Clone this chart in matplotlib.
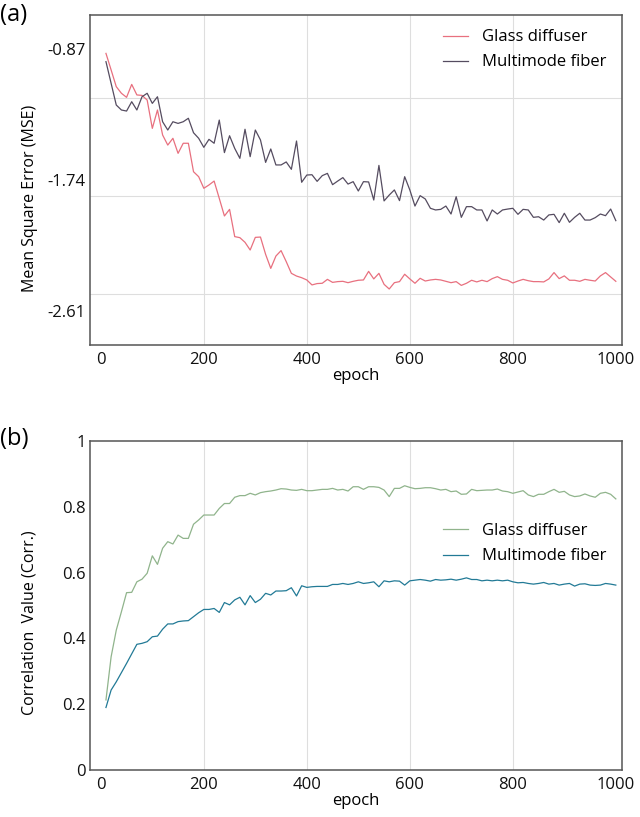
import numpy as np
import matplotlib
matplotlib.use("Agg")
import matplotlib.pyplot as plt

plt.rcParams['font.family'] = ['Open Sans', 'DejaVu Sans']

# epochs 10..1000
epochs = list(range(10, 1010, 10))

# (a) MSE curves
mse_glass = [
    -0.899, -1.009, -1.120, -1.164, -1.191, -1.105, -1.175, -1.178, -1.209, -1.397,
    -1.275, -1.441, -1.508, -1.463, -1.563, -1.496, -1.496, -1.685, -1.718, -1.795,
    -1.773, -1.747, -1.862, -1.979, -1.935, -2.116, -2.123, -2.154, -2.205, -2.121,
    -2.119, -2.234, -2.327, -2.245, -2.209, -2.282, -2.360, -2.378, -2.389, -2.404,
    -2.437, -2.428, -2.426, -2.400, -2.420, -2.415, -2.413, -2.422, -2.413, -2.406,
    -2.404, -2.347, -2.397, -2.360, -2.433,
    -2.464, -2.422, -2.415, -2.366, -2.397, -2.426, -2.393, -2.411, -2.404, -2.400,
    -2.404, -2.413, -2.422, -2.415, -2.440, -2.426, -2.406, -2.417, -2.406, -2.415,
    -2.395, -2.382, -2.400, -2.406, -2.424, -2.411, -2.400, -2.409, -2.415, -2.415,
    -2.417, -2.397, -2.355, -2.395, -2.377, -2.406, -2.406, -2.413, -2.400, -2.406,
    -2.411, -2.377, -2.355, -2.384, -2.413,
]
mse_fiber = [
    -0.954, -1.098, -1.242, -1.275, -1.282, -1.220, -1.275, -1.187, -1.164, -1.231,
    -1.187, -1.353, -1.408, -1.353, -1.364, -1.353, -1.330, -1.426, -1.463, -1.523,
    -1.470, -1.496, -1.342, -1.558, -1.446, -1.530, -1.596, -1.403, -1.585, -1.408,
    -1.474, -1.623, -1.534, -1.640, -1.640, -1.620, -1.669, -1.481, -1.755, -1.707,
    -1.705, -1.749, -1.711, -1.696, -1.771, -1.747, -1.724, -1.767, -1.751, -1.813,
    -1.751, -1.753, -1.873, -1.643, -1.879,
    -1.840, -1.806, -1.877, -1.718, -1.806, -1.913, -1.844, -1.866, -1.928, -1.939,
    -1.935, -1.913, -1.966, -1.851, -1.988, -1.917, -1.917, -1.939, -1.939, -2.012,
    -1.939, -1.966, -1.939, -1.933, -1.928, -1.968, -1.935, -1.939, -1.988, -1.984,
    -2.006, -1.972, -1.968, -2.023, -1.961, -2.021, -1.988, -1.961, -2.006, -2.006,
    -1.990, -1.966, -1.977, -1.933, -2.010,
]

# (b) correlation curves
corr_glass = [
    0.213, 0.344, 0.425, 0.481, 0.539, 0.540, 0.572, 0.580, 0.598, 0.651,
    0.625, 0.674, 0.694, 0.687, 0.714, 0.704, 0.704, 0.747, 0.760, 0.775,
    0.775, 0.775, 0.795, 0.810, 0.810, 0.829, 0.834, 0.834, 0.841, 0.836,
    0.843, 0.846, 0.848, 0.851, 0.855, 0.854, 0.851, 0.850, 0.853, 0.849,
    0.849, 0.851, 0.853, 0.853, 0.856, 0.851, 0.853, 0.848, 0.861, 0.861,
    0.853, 0.861, 0.861, 0.859, 0.851,
    0.831, 0.856, 0.856, 0.864, 0.859, 0.855, 0.856, 0.858, 0.858, 0.855,
    0.851, 0.853, 0.846, 0.848, 0.838, 0.839, 0.853, 0.849, 0.850, 0.851,
    0.851, 0.854, 0.848, 0.846, 0.841, 0.845, 0.849, 0.836, 0.831, 0.838,
    0.838, 0.846, 0.853, 0.844, 0.847, 0.836, 0.831, 0.833, 0.839, 0.833,
    0.829, 0.841, 0.844, 0.838, 0.824,
]
corr_fiber = [
    0.190, 0.243, 0.268, 0.296, 0.324, 0.353, 0.382, 0.385, 0.390, 0.405,
    0.407, 0.428, 0.444, 0.444, 0.451, 0.453, 0.454, 0.466, 0.478, 0.488,
    0.488, 0.491, 0.479, 0.509, 0.502, 0.517, 0.525, 0.502, 0.530, 0.509,
    0.519, 0.537, 0.532, 0.544, 0.544, 0.545, 0.554, 0.529, 0.560, 0.555,
    0.557, 0.558, 0.558, 0.558, 0.564, 0.564, 0.567, 0.564, 0.567, 0.572,
    0.567, 0.569, 0.572, 0.557, 0.575,
    0.572, 0.575, 0.574, 0.562, 0.575, 0.577, 0.579, 0.577, 0.574, 0.579,
    0.577, 0.578, 0.580, 0.577, 0.580, 0.584, 0.579, 0.579, 0.575, 0.577,
    0.575, 0.577, 0.575, 0.577, 0.572, 0.569, 0.570, 0.567, 0.565, 0.567,
    0.570, 0.565, 0.567, 0.562, 0.565, 0.567, 0.559, 0.565, 0.566, 0.562,
    0.561, 0.562, 0.567, 0.565, 0.562,
]

mse_ticks = [-0.87, -1.74, -2.61]
mse_tick_labels = ['-0.87', '-1.74', '-2.61']
mse_grid = [-1.195, -1.846, -2.497]
corr_ticks = [0, 0.2, 0.4, 0.6, 0.8, 1]
corr_tick_labels = ['0', '0.2', '0.4', '0.6', '0.8', '1']
epoch_ticks = [0, 200, 400, 600, 800, 1000]
epoch_grid = [200, 400, 600, 800]

FS = 12
W, H = 640, 817
fig = plt.figure(figsize=(W / 100, H / 100), dpi=100)
ax1 = fig.add_axes([90 / W, 1 - 345 / H, 532 / W, 330 / H])
ax2 = fig.add_axes([90 / W, 1 - 770 / H, 532 / W, 329 / H])


def style(ax):
    for s in ax.spines.values():
        s.set_color('#555555')
        s.set_linewidth(1.1)
    ax.set_xlim(-21, 1012)
    ax.xaxis.remove_overlapping_locs = False
    ax.set_xticks(epoch_ticks)
    ax.set_xticklabels([str(t) for t in epoch_ticks])
    ax.set_xticks(epoch_grid, minor=True)
    ax.tick_params(which='both', length=0, labelsize=FS, colors='#111111')
    ax.tick_params(axis='x', pad=5)
    ax.tick_params(axis='y', pad=3)
    ax.grid(False, which='major')
    ax.grid(True, which='minor', color='#dedede', linewidth=0.8)
    ax.set_axisbelow(True)
    ax.set_xlabel('epoch', fontsize=FS, labelpad=0)


def add_legend(ax, top_px):
    ax.legend(loc='upper left', bbox_to_anchor=(435 / W, 1 - top_px / H),
              bbox_transform=fig.transFigure, frameon=False, fontsize=FS,
              borderpad=0, handlelength=1.5, handletextpad=0.85,
              labelspacing=0.55)


ax1.plot(epochs, mse_glass, color='#e8707f', lw=0.9, label='Glass diffuser')
ax1.plot(epochs, mse_fiber, color='#554c60', lw=0.9, label='Multimode fiber')
style(ax1)
ax1.set_ylim(-2.836, -0.644)
ax1.set_yticks(mse_ticks)
ax1.set_yticklabels(mse_tick_labels)
ax1.set_yticks(mse_grid, minor=True)
ax1.set_ylabel('Mean Square Error (MSE)', fontsize=11.5)
ax1.yaxis.set_label_coords(-0.098, 0.445)
add_legend(ax1, 21)

ax2.plot(epochs, corr_glass, color='#90b48c', lw=0.9, label='Glass diffuser')
ax2.plot(epochs, corr_fiber, color='#227a96', lw=0.9, label='Multimode fiber')
style(ax2)
ax2.set_ylim(0, 1)
ax2.set_yticks(corr_ticks)
ax2.set_yticklabels(corr_tick_labels)
ax2.set_yticks([0.2, 0.4, 0.6, 0.8], minor=True)
ax2.set_ylabel('Correlation  Value (Corr.)', fontsize=11.5)
ax2.yaxis.set_label_coords(-0.098, 0.447)
add_legend(ax2, 515)

fig.text(0.0, 1 - 15 / H, '(a)', fontsize=17, va='center', ha='left')
fig.text(0.0, 1 - 439 / H, '(b)', fontsize=17, va='center', ha='left')

fig.savefig('out.png', dpi=100)
